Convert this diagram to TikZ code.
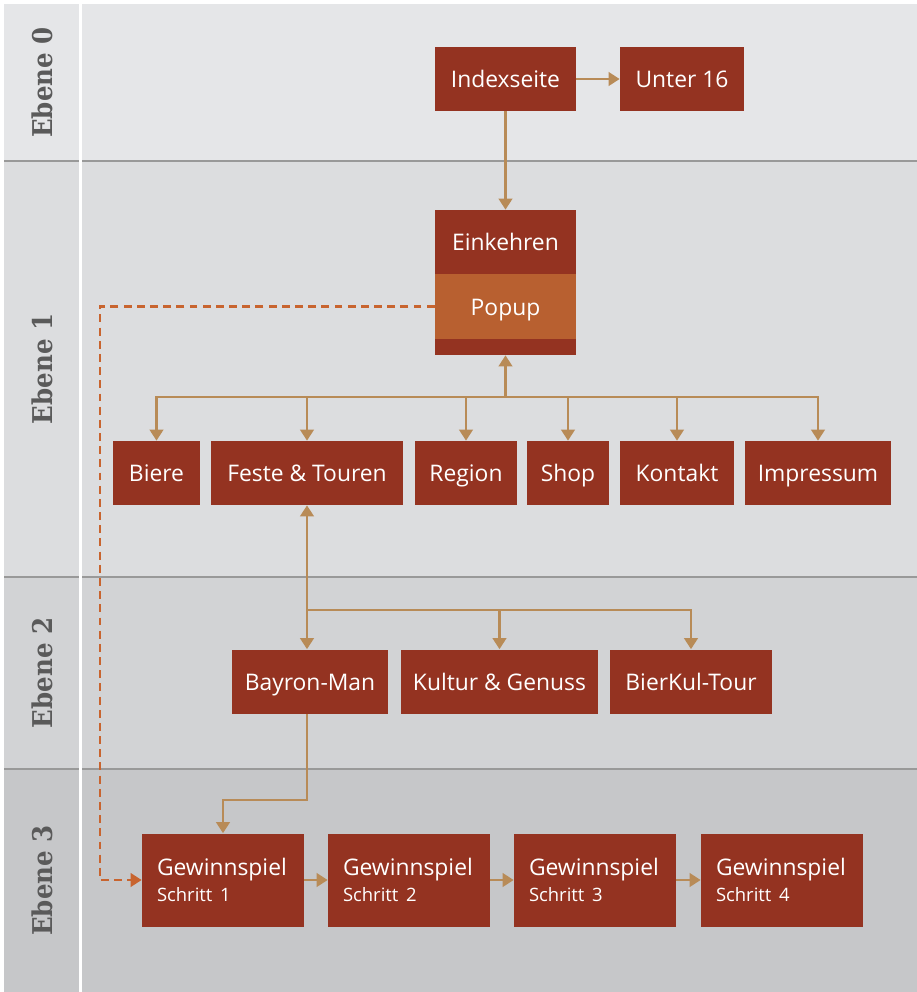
\documentclass[tikz,border=0pt]{standalone}
\usepackage{fontspec}
\setmainfont{Open Sans}
\newfontfamily\labelfont{DejaVu Serif Condensed Bold}
\usetikzlibrary{arrows.meta}
\usetikzlibrary{positioning}

\definecolor{bandNull}{HTML}{E5E6E8}
\definecolor{bandEins}{HTML}{DCDDDF}
\definecolor{bandZwei}{HTML}{D2D3D5}
\definecolor{bandDrei}{HTML}{C6C7C9}
\definecolor{boxRed}{HTML}{943321}
\definecolor{popupOrange}{HTML}{B86030}
\definecolor{linkTan}{HTML}{B88B57}
\definecolor{dashOrange}{HTML}{C8642F}
\definecolor{labelGray}{HTML}{5A5A5A}

\begin{document}
\begin{tikzpicture}
[x=0.02cm,y=-0.02cm,%
  boxDecorate/.style={fill=boxRed,text=white,inner sep=0pt,text height=12pt,text depth=1.8pt,minimum height=1.28cm,minimum width=#1*0.02cm,font=\fontsize{13}{15}\selectfont},%
  stepDecorate/.style={fill=boxRed,text=white,inner xsep=15*0.02cm,inner ysep=0pt,minimum height=93*0.02cm,text width=132*0.02cm,align=left,font=\fontsize{13}{15.5}\selectfont},%
  arrowDecorate/.style={draw=linkTan,line width=1.4pt,-{Triangle[width=0.27cm,length=0.22cm]}},%
  dashDecorate/.style={draw=dashOrange,line width=1.3pt,dash pattern=on 4.5pt off 3pt,-{Triangle[width=0.27cm,length=0.22cm,fill=dashOrange]}},%
  levelLabel/.style={rotate=90,text=labelGray,font=\labelfont\fontsize{15.5}{18}\selectfont}]
\useasboundingbox (0,0) rectangle (917,992);
%% background bands
\fill[white] (0,0) rectangle (917,992);
\fill[bandNull] (4,4) rectangle (917,161);
\fill[bandEins] (4,161) rectangle (917,577);
\fill[bandZwei] (4,577) rectangle (917,769);
\fill[bandDrei] (4,769) rectangle (917,992);
\foreach \y in {161,577,769}
  \draw[color=black!40,line width=0.8pt] (4,\y) -- (917,\y);
\draw[white,line width=1.7pt] (80.5,4) -- (80.5,992);
%% level labels
\foreach \nodename/\y/\num in {ebeneNull/82.5/0, ebeneEins/369/1, ebeneZwei/673/2, ebeneDrei/880.5/3}
  \node[levelLabel] (\nodename) at (42,\y) {Ebene \num};
%% level 0
\node[boxDecorate=141] (index) at (505.5,79) {Indexseite};
\node[boxDecorate=124] (unter) at (682,79) {Unter 16};
%% level 1
\node[boxDecorate=141,minimum height=145*0.02cm] (einkehren) at (505.5,282.5) {};
\node[boxDecorate=141] (einkehrenText) at (505.5,242) {Einkehren};
\node[boxDecorate=141,fill=popupOrange,minimum height=65*0.02cm] (popup) at (505.5,306.5) {Popup};
\foreach \nodename/\x/\w/\txt in {
  biere/156.5/87/Biere, feste/307/192/Feste \& Touren, region/466/102/Region,
  shop/568/82/Shop, kontakt/677/114/Kontakt, impressum/818/146/Impressum}
{
  \node[boxDecorate=\w] (\nodename) at (\x,473) {\txt};
}
%% level 2
\foreach \nodename/\x/\w/\txt in {
  bayron/310/156/Bayron-Man, kultur/499.5/197/Kultur \& Genuss, bierkul/691/162/BierKul-Tour}
{
  \node[boxDecorate=\w] (\nodename) at (\x,681.5) {\txt};
}
%% level 3
\foreach \nodename/\x/\num in {gewinnEins/223/1, gewinnZwei/409/2, gewinnDrei/595/3, gewinnVier/782/4}
{
  \node[stepDecorate] (\nodename) at (\x,880) {Gewinnspiel\\[-1pt]{\fontsize{10.5}{12}\selectfont Schritt \num}};
}
%% connectors
\coordinate (busEins) at (505.5,397);
\coordinate (busZwei) at (307,610);
\coordinate (knick) at (307,800);
\coordinate (dashEcke) at (100,306.5);
\draw[arrowDecorate] (index) -- (unter);
\draw[arrowDecorate] (index) -- (einkehren);
\draw[arrowDecorate] (busEins) -- (einkehren);
\draw[arrowDecorate] (busEins) -| (biere.north);
\draw[arrowDecorate] (busEins) -| (impressum.north);
\foreach \nodename in {feste,region,shop,kontakt}
  \draw[arrowDecorate] (busEins -| \nodename.north) -- (\nodename.north);
\draw[arrowDecorate] (busZwei) -- (feste);
\draw[arrowDecorate] (busZwei) -- (busZwei |- bayron.north);
\draw[arrowDecorate] (busZwei) -| (bierkul.north);
\draw[arrowDecorate] (busZwei -| kultur.north) -- (kultur.north);
\draw[arrowDecorate] (knick |- bayron.south) -- (knick) -| (gewinnEins.north);
\draw[arrowDecorate] (gewinnEins) -- (gewinnZwei);
\draw[arrowDecorate] (gewinnZwei) -- (gewinnDrei);
\draw[arrowDecorate] (gewinnDrei) -- (gewinnVier);
\draw[dashDecorate] (popup.west) -- (dashEcke) |- (gewinnEins.west);
\end{tikzpicture}
\end{document}
